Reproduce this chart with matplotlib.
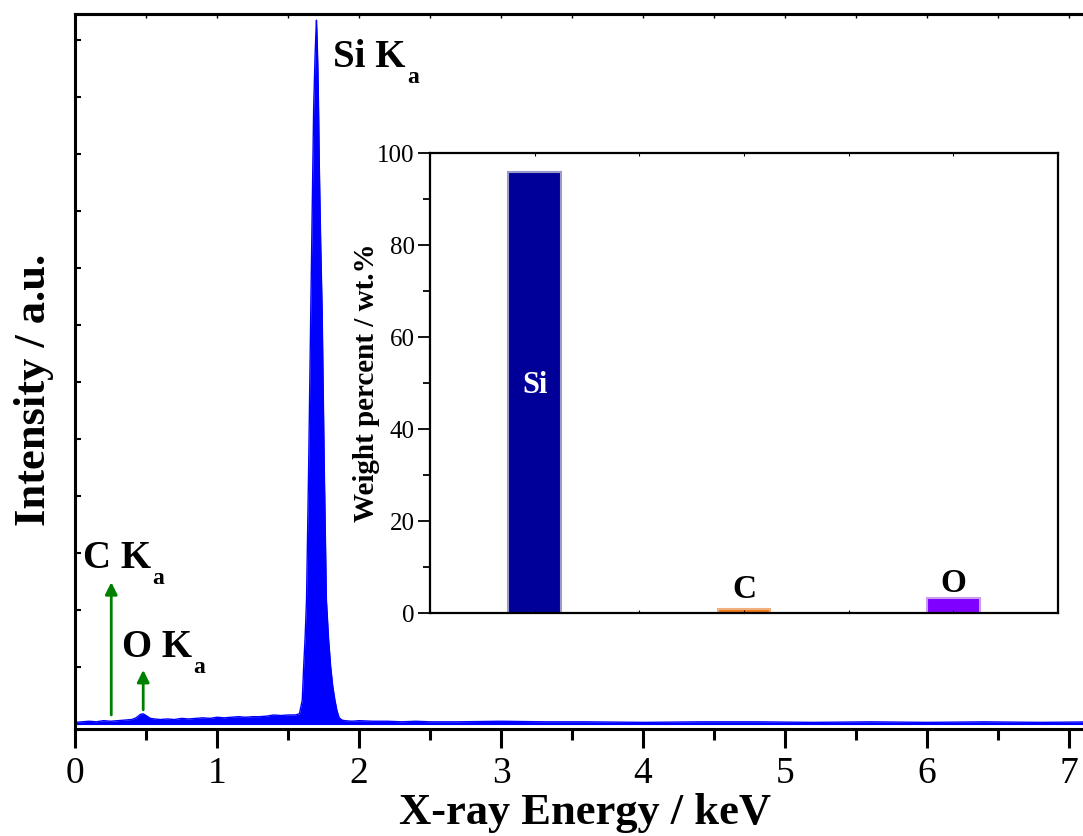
import matplotlib
matplotlib.use("Agg")
import matplotlib.pyplot as plt
from matplotlib.ticker import MultipleLocator

plt.rcParams["font.family"] = "Liberation Serif"

# --- EDS spectrum ------------------------------------------------------------
energy = [0.00, 0.05, 0.10, 0.15, 0.20, 0.25, 0.30, 0.35, 0.40, 0.43,
          0.46, 0.48, 0.50, 0.53, 0.56, 0.60, 0.65, 0.70, 0.75, 0.80,
          0.85, 0.90, 0.95, 1.00, 1.05, 1.10, 1.15, 1.20, 1.25, 1.30,
          1.35, 1.40, 1.45, 1.50, 1.55, 1.58, 1.60, 1.61, 1.62, 1.63,
          1.645, 1.66, 1.67, 1.68, 1.69, 1.695, 1.70, 1.705, 1.71, 1.715,
          1.72, 1.73, 1.74, 1.755, 1.77, 1.785, 1.80, 1.815, 1.83, 1.845,
          1.86, 1.88, 1.90, 1.95, 2.00, 2.10, 2.20, 2.30, 2.40, 2.50,
          2.70, 3.00, 3.30, 3.60, 4.00, 4.40, 4.80, 5.20, 5.60, 6.00,
          6.40, 6.80, 7.20, 7.50]
intensity = [0.02, 0.03, 0.04, 0.03, 0.05, 0.04, 0.05, 0.06, 0.07, 0.10,
             0.16, 0.17, 0.14, 0.09, 0.08, 0.07, 0.08, 0.07, 0.09, 0.08,
             0.09, 0.10, 0.09, 0.11, 0.10, 0.11, 0.12, 0.11, 0.12, 0.12,
             0.13, 0.15, 0.14, 0.15, 0.15, 0.17, 0.41, 1.00, 1.50, 2.17,
             4.50, 7.25, 9.00, 10.76, 11.70, 12.05, 12.34, 12.00, 11.50, 10.76,
             9.80, 8.40, 7.25, 4.50, 2.17, 1.50, 1.00, 0.65, 0.41, 0.22,
             0.10, 0.06, 0.05, 0.04, 0.05, 0.04, 0.04, 0.03, 0.04, 0.03,
             0.03, 0.04, 0.03, 0.03, 0.02, 0.03, 0.03, 0.02, 0.03, 0.02,
             0.03, 0.02, 0.03, 0.02]

# peak markers
peak_labels = ["Si", "C", "O"]
label_x = [1.82, 0.057, 0.333]
label_y = [11.52, 2.73, 1.17]
arrow_energy = [0.255, 0.48]
arrow_tail = [0.15, 0.24]
arrow_tip = [2.48, 0.94]

# --- inset: composition ------------------------------------------------------
elements = ["Si", "C", "O"]
weight_pct = [96.0, 0.8, 3.2]
bar_colors = ["#000099", "#f07818", "#8000ff"]
bar_edges = ["#9a9acb", "#f0b080", "#c8a0f0"]


def k_label(ax, x, y, elem):
    t = ax.text(x, y, f"{elem} K", fontsize=28, fontweight="bold",
                va="baseline", ha="left")
    ax.annotate("a", xy=(1, 0), xycoords=t, xytext=(1, -5),
                textcoords="offset points", fontsize=17, fontweight="bold",
                va="baseline", ha="left")


fig = plt.figure(figsize=(10.83, 8.36), dpi=100)

ax = fig.add_axes([0.0693, 0.128, 0.9834, 0.8553])
ax.fill_between(energy, 0, intensity, color="#0000ff", lw=0)
ax.plot(energy, intensity, color="#0000ff", lw=1)
ax.plot([energy[0], energy[-1]], [0, 0], color="#0000ff", lw=1.5)

ax.set_xlim(0, 7.5)
ax.set_ylim(-0.096, 12.45)
ax.xaxis.set_major_locator(MultipleLocator(1))
ax.xaxis.set_minor_locator(MultipleLocator(0.5))
ax.yaxis.set_major_locator(MultipleLocator(1))
ax.tick_params(axis="x", which="major", direction="out", length=14, width=2.2,
               labelsize=27, pad=6)
ax.tick_params(axis="x", which="minor", direction="out", length=8, width=2.2)
ax.tick_params(axis="y", direction="in", length=4, width=1.5, labelleft=False)
for side in ["left", "bottom", "top"]:
    ax.spines[side].set_linewidth(2.2)
ax.spines["right"].set_visible(False)

top = ax.secondary_xaxis("top")
top.xaxis.set_major_locator(MultipleLocator(0.5))
top.tick_params(direction="in", length=3, width=1, labeltop=False)
top.spines["top"].set_linewidth(2.2)

ax.set_xlabel("X-ray Energy / keV", fontsize=32, fontweight="bold")
ax.xaxis.set_label_coords(0.479, -0.089)
ax.set_ylabel("Intensity / a.u.", fontsize=32, fontweight="bold")
ax.yaxis.set_label_coords(-0.02, 0.474)

for name, lx, ly in zip(peak_labels, label_x, label_y):
    k_label(ax, lx, ly, name)
for e, y0, y1 in zip(arrow_energy, arrow_tail, arrow_tip):
    ax.annotate("", xy=(e, y1), xytext=(e, y0),
                arrowprops=dict(arrowstyle="-|>", color="green", lw=2,
                                mutation_scale=18, shrinkA=0, shrinkB=0))

# inset bar chart
inax = fig.add_axes([0.397, 0.2667, 0.580, 0.550])
pos = [1 + 2 * i for i in range(len(elements))]
inax.bar(pos, weight_pct, width=0.5, color=bar_colors, edgecolor=bar_edges,
         linewidth=1.5)
inax.set_xlim(0, 6)
inax.set_ylim(0, 100)
inax.xaxis.set_major_locator(MultipleLocator(1))
inax.yaxis.set_major_locator(MultipleLocator(20))
inax.yaxis.set_minor_locator(MultipleLocator(10))
inax.tick_params(axis="x", direction="in", length=2, top=True, labelbottom=False)
inax.tick_params(axis="y", which="major", direction="out", length=9, width=1.3,
                 labelsize=18, pad=2)
inax.tick_params(axis="y", which="minor", direction="out", length=5, width=1.3)
for s in inax.spines.values():
    s.set_linewidth(1.6)
inax.set_ylabel("Weight percent / wt.%", fontsize=21, fontweight="bold")
inax.yaxis.set_label_coords(-0.08, 0.502)

inax.text(pos[0], 47.8, elements[0], color="white", fontsize=22,
          fontweight="bold", ha="center", va="baseline")
inax.text(pos[1], 3.3, elements[1], fontsize=24, fontweight="bold",
          ha="center", va="baseline")
inax.text(pos[2], 4.6, elements[2], fontsize=24, fontweight="bold",
          ha="center", va="baseline")

fig.savefig("out.png", dpi=100)
